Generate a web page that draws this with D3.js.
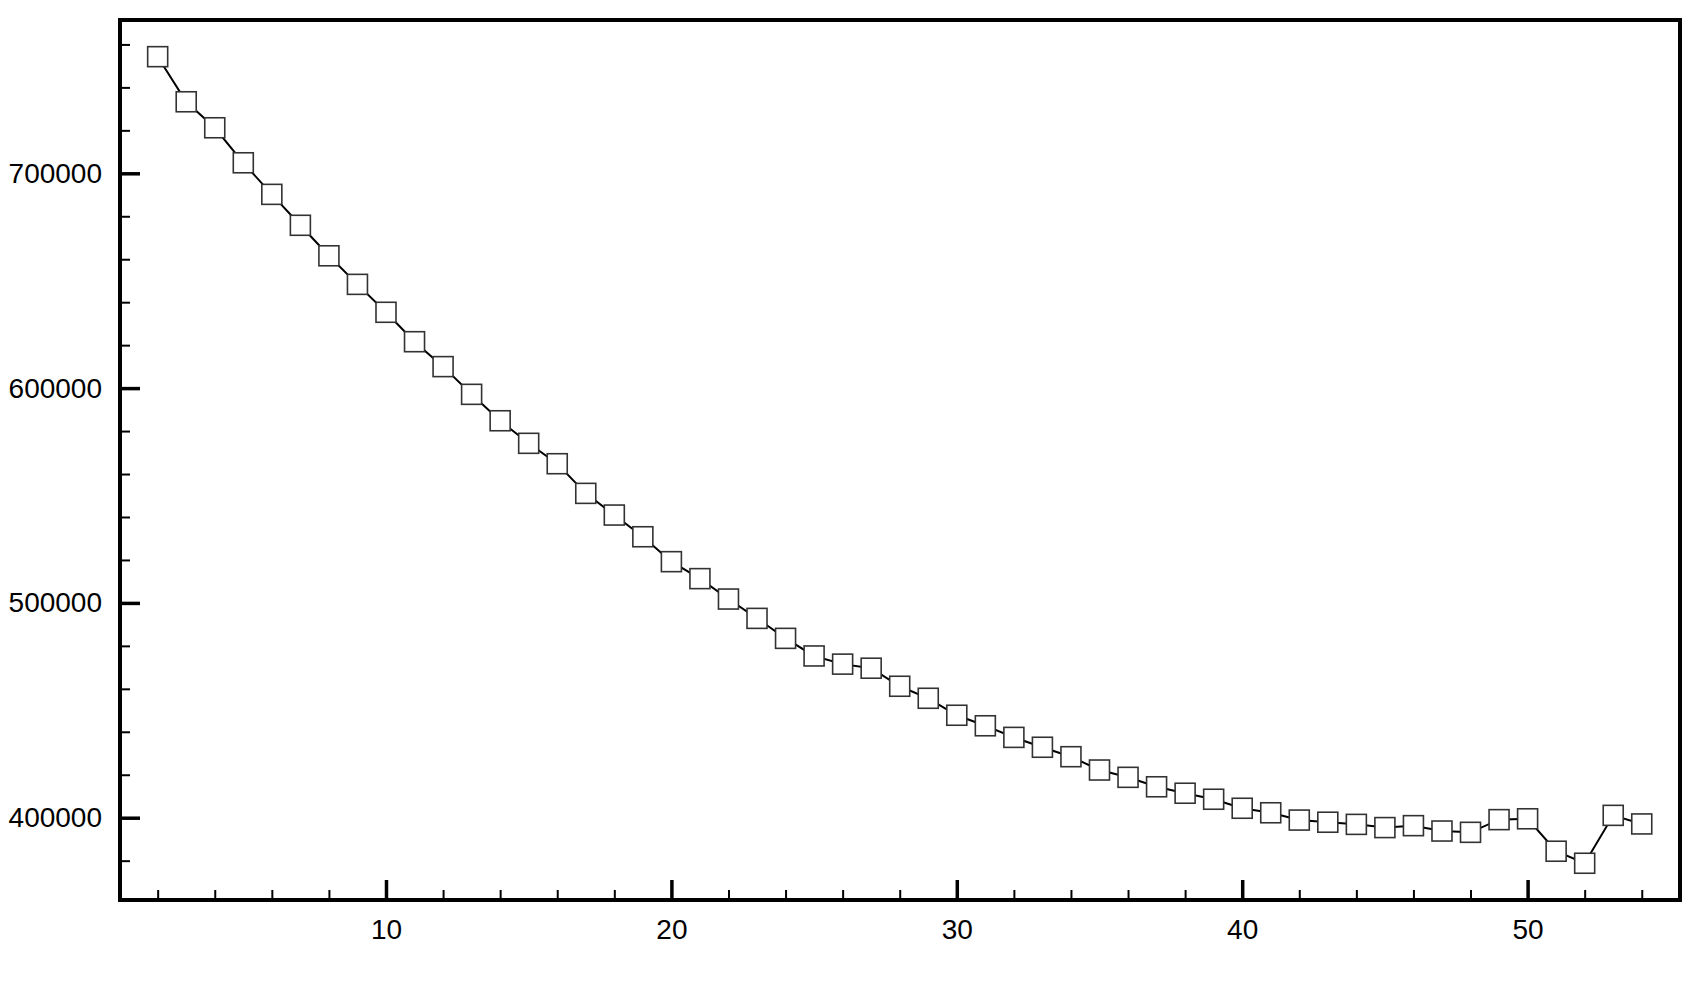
<!DOCTYPE html>
<html>
<head>
<meta charset="utf-8">
<script src="https://cdn.jsdelivr.net/npm/d3@7"></script>
<style>
  html, body { margin: 0; padding: 0; background: #fff; }
  svg { display: block; }
  text { font-family: "Liberation Sans", Arial, Helvetica, sans-serif; }
</style>
</head>
<body>
<svg id="chart" width="1700" height="1000"></svg>
<script>
const xValues = [2,3,4,5,6,7,8,9,10,11,12,13,14,15,16,17,18,19,20,21,22,23,24,25,26,27,28,29,30,31,32,33,34,35,36,37,38,39,40,41,42,43,44,45,46,47,48,49,50,51,52,53,54];
const yValues = [754300,733300,721200,704900,690200,675800,661600,648300,635300,621600,610000,597100,
  584800,574300,564800,551000,540900,530800,519200,511300,501800,492800,483500,475300,
  471500,469600,461200,455600,447700,442800,437400,432800,428400,422200,418800,414400,411400,
  408600,404400,402300,398900,397900,396900,395400,396300,393800,393200,399100,399500,384400,378800,401100,397100];
const xMajorTicks = [10,20,30,40,50];
const xMinorTicks = [2,4,6,8,12,14,16,18,22,24,26,28,32,34,36,38,42,44,46,48,52,54];
const yMajorTicks = [400000,500000,600000,700000];
const yMinorTicks = [380000,420000,440000,460000,480000,520000,540000,560000,580000,620000,640000,660000,680000,720000,740000,760000];

(function () {
const data = xValues.map((x, i) => ({x, y: yValues[i]}));

const svg = d3.select("#chart");
const mL = 120, mR = 1680, mT = 20, mB = 900;

const x = d3.scaleLinear().domain([0.68, 55.34]).range([mL, mR]);
const y = d3.scaleLinear().domain([361690, 771370]).range([mB, mT]);

// minor ticks
svg.append("g").attr("transform", `translate(0,${mB})`)
  .call(d3.axisBottom(x).tickValues(xMinorTicks).tickSizeInner(-10).tickSizeOuter(0).tickFormat(""))
  .call(g => g.select(".domain").remove())
  .call(g => g.selectAll("line").attr("stroke", "#000").attr("stroke-width", 2));
svg.append("g").attr("transform", `translate(${mL},0)`)
  .call(d3.axisLeft(y).tickValues(yMinorTicks).tickSizeInner(-10).tickSizeOuter(0).tickFormat(""))
  .call(g => g.select(".domain").remove())
  .call(g => g.selectAll("line").attr("stroke", "#000").attr("stroke-width", 2));

// major ticks
svg.append("g").attr("transform", `translate(0,${mB})`)
  .call(d3.axisBottom(x).tickValues(xMajorTicks).tickSizeInner(-20).tickSizeOuter(0).tickPadding(19).tickFormat(d3.format("d")))
  .call(g => g.select(".domain").remove())
  .call(g => g.selectAll("line").attr("stroke", "#000").attr("stroke-width", 3.5))
  .call(g => g.selectAll("text").attr("fill", "#000").style("font-size", "28px").attr("font-family", null));
svg.append("g").attr("transform", `translate(${mL},0)`)
  .call(d3.axisLeft(y).tickValues(yMajorTicks).tickSizeInner(-20).tickSizeOuter(0).tickPadding(18).tickFormat(d3.format("d")))
  .call(g => g.select(".domain").remove())
  .call(g => g.selectAll("line").attr("stroke", "#000").attr("stroke-width", 3.5))
  .call(g => g.selectAll("text").attr("fill", "#000").style("font-size", "28px").attr("font-family", null));

// frame
svg.append("rect")
  .attr("x", mL).attr("y", mT)
  .attr("width", mR - mL).attr("height", mB - mT)
  .attr("fill", "none").attr("stroke", "#000").attr("stroke-width", 4);

// line
svg.append("path")
  .datum(data)
  .attr("fill", "none")
  .attr("stroke", "#000")
  .attr("stroke-width", 2)
  .attr("d", d3.line().x(d => x(d.x)).y(d => y(d.y)));

// markers
const s = 20;
svg.append("g").selectAll("rect")
  .data(data)
  .join("rect")
  .attr("x", d => x(d.x) - s / 2)
  .attr("y", d => y(d.y) - s / 2)
  .attr("width", s).attr("height", s)
  .attr("fill", "#fff")
  .attr("stroke", "#333")
  .attr("stroke-width", 1.6);
})();
</script>
</body>
</html>
